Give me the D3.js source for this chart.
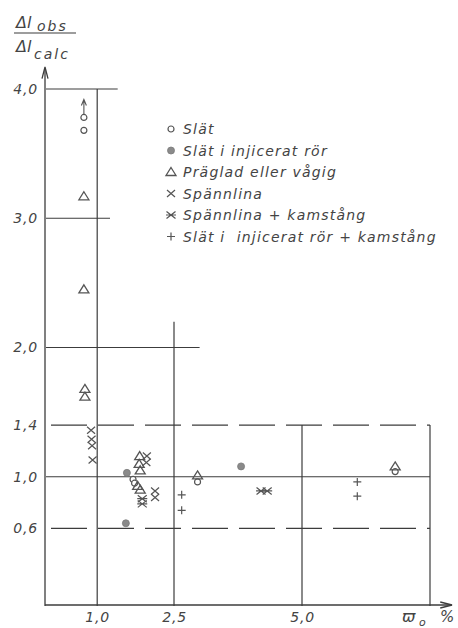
<!DOCTYPE html>
<html>
<head>
<meta charset="utf-8">
<script src="https://cdn.jsdelivr.net/npm/d3@7"></script>
<style>
  html, body { margin: 0; padding: 0; background: #fff; }
  svg text { font-family: "DejaVu Sans", sans-serif; font-style: italic; fill: #444; }
</style>
</head>
<body>
<svg id="chart" width="458" height="628"></svg>
<script>
// Measured elongation ratio Δl_obs / Δl_calc against reinforcement ratio ω0 (%)
const yTicks = [0.6, 1.0, 1.4, 2.0, 3.0, 4.0];
const xTicks = [1.0, 2.5, 5.0];

// Slät (open circles); the first point is off the scale (arrow)
const slat = [[0.74, 3.78], [0.74, 3.68], [1.70, 0.98], [1.73, 0.95], [2.96, 0.96], [6.82, 1.04]];
const slatArrow = [[0.74, 3.78]];
// Slät i injicerat rör (filled circles)
const slatRor = [[1.58, 1.03], [1.56, 0.64], [3.81, 1.08]];
// Präglad eller vågig (triangles)
const praglad = [[0.74, 3.17], [0.74, 2.45], [0.76, 1.68], [0.76, 1.62],
                 [1.83, 1.16], [1.82, 1.10], [1.84, 1.05], [1.79, 0.93], [1.84, 0.90],
                 [2.96, 1.01], [6.82, 1.08]];
// Spännlina (crosses)
const spannlina = [[0.88, 1.36], [0.89, 1.29], [0.90, 1.24], [0.91, 1.13],
                   [1.97, 1.16], [1.96, 1.11], [2.13, 0.89], [2.13, 0.84]];
// Spännlina + kamstång (asterisks)
const spannlinaKam = [[1.88, 0.83], [1.88, 0.79], [4.20, 0.89], [4.32, 0.89]];
// Slät i injicerat rör + kamstång (plus signs)
const slatRorKam = [[2.65, 0.86], [2.65, 0.74], [6.08, 0.96], [6.08, 0.85]];

const legendItems = [
  ["circle", "Slät"],
  ["dot", "Slät i injicerat rör"],
  ["triangle", "Präglad eller vågig"],
  ["cross", "Spännlina"],
  ["star", "Spännlina + kamstång"],
  ["plus", "Slät i  injicerat rör + kamstång"]
];

const svg = d3.select("#chart");
const x = d3.scaleLinear().domain([0, 7.5]).range([46, 430]);
const y = d3.scaleLinear().domain([0, 4]).range([606, 89]);
const ink = "#3c3c3c";

// Frame and guide lines: [x0, x1, y0, y1, dashed]
const lines = [
  [0, 1.4, 4.0, 4.0, false],
  [0, 1.25, 3.0, 3.0, false],
  [0, 3.0, 2.0, 2.0, false],
  [0, 7.5, 1.4, 1.4, true],
  [0, 7.5, 1.0, 1.0, false],
  [0, 7.5, 0.6, 0.6, true],
  [1.0, 1.0, 0, 4.0, false],
  [2.5, 2.5, 0, 2.2, false],
  [5.0, 5.0, 0, 1.4, false],
  [7.5, 7.5, 0, 1.4, false]
];
svg.append("g").selectAll("line").data(lines).join("line")
  .attr("x1", d => x(d[0])).attr("x2", d => x(d[1]))
  .attr("y1", d => y(d[2])).attr("y2", d => y(d[3]))
  .attr("stroke", ink).attr("stroke-width", 1.2)
  .attr("stroke-dasharray", d => d[4] ? "36,11" : null)
  .attr("stroke-dashoffset", d => d[4] ? -5 : null);

// Axes with arrowheads
const axisG = svg.append("g").attr("stroke", ink).attr("stroke-width", 1.3).attr("fill", "none");
axisG.append("line").attr("x1", x(0) - 1).attr("x2", x(0) - 1).attr("y1", y(0)).attr("y2", y(4.16));
axisG.append("path").attr("d", `M${x(0) - 4},${y(4.08)} L${x(0) - 1},${y(4.17)} L${x(0) + 2},${y(4.08)}`);
axisG.append("line").attr("x1", x(0) - 1).attr("x2", x(7.92)).attr("y1", y(0) - 1).attr("y2", y(0) - 1);
axisG.append("path").attr("d", `M${x(7.7)},${y(0) - 4} L${x(7.93)},${y(0) - 1} L${x(7.7)},${y(0) + 2}`);

// Tick labels
const fmt = d => d3.format(".1f")(d).replace(".", ",");
const yAxis = svg.append("g").attr("transform", `translate(${x(0)},0)`)
  .call(d3.axisLeft(y).tickValues(yTicks).tickSize(0).tickPadding(8).tickFormat(fmt));
const xAxis = svg.append("g").attr("transform", `translate(0,${y(0)})`)
  .call(d3.axisBottom(x).tickValues(xTicks).tickSize(0).tickPadding(6).tickFormat(fmt));
[yAxis, xAxis].forEach(g => {
  g.select(".domain").remove();
  g.selectAll("text").style("font-size", "14px").style("font-family", "DejaVu Sans")
    .style("font-style", "italic").style("letter-spacing", "0.8px").attr("fill", "#555");
});

// Axis titles
const t = svg.append("g");
t.append("text").attr("x", 16).attr("y", 28).style("font-size", "16px").text("Δl");
t.append("text").attr("x", 37).attr("y", 31).style("font-size", "14px").style("letter-spacing", "2px").text("obs");
t.append("line").attr("x1", 14).attr("x2", 76).attr("y1", 33).attr("y2", 33).attr("stroke", ink).attr("stroke-width", 1.2);
t.append("text").attr("x", 16).attr("y", 52).style("font-size", "16px").text("Δl");
t.append("text").attr("x", 34).attr("y", 59).style("font-size", "14px").style("letter-spacing", "2px").text("calc");
t.append("text").attr("x", 402).attr("y", 622).style("font-size", "16px").text("ϖ");
t.append("text").attr("x", 419).attr("y", 626).style("font-size", "11px").text("o");
t.append("text").attr("x", 440).attr("y", 622).style("font-size", "15px").text("%");

// Marker drawing
const sym = {
  circle: g => g.append("circle").attr("r", 3).attr("fill", "#fff").attr("stroke", "#555").attr("stroke-width", 1.2),
  dot: g => g.append("circle").attr("r", 3.5).attr("fill", "#8a8a8a").attr("stroke", "#7a7a7a").attr("stroke-width", 0.8),
  triangle: g => g.append("path").attr("d", "M0,-4.5 L5,3.5 L-5,3.5 Z").attr("fill", "none").attr("stroke", "#555").attr("stroke-width", 1.3),
  cross: g => g.append("path").attr("d", "M-4,-3.5 L4,3.5 M-4,3.5 L4,-3.5").attr("stroke", "#555").attr("stroke-width", 1.2),
  star: g => g.append("path").attr("d", "M-4.5,-3.5 L4.5,3.5 M-4.5,3.5 L4.5,-3.5 M-5,0 L5,0").attr("stroke", "#555").attr("stroke-width", 1.2),
  plus: g => g.append("path").attr("d", "M-4,0 L4,0 M0,-4 L0,4").attr("stroke", "#555").attr("stroke-width", 1.2)
};
function plot(data, kind) {
  svg.append("g").selectAll("g").data(data).join("g")
    .attr("transform", d => `translate(${x(d[0])},${y(d[1])})`)
    .each(function () { sym[kind](d3.select(this)); });
}
plot(slat, "circle");
plot(slatRor, "dot");
plot(praglad, "triangle");
plot(spannlina, "cross");
plot(spannlinaKam, "star");
plot(slatRorKam, "plus");

// Arrow marking a value beyond the plotted range
svg.append("g").selectAll("path").data(slatArrow).join("path")
  .attr("d", d => `M${x(d[0])},${y(d[1]) - 3} L${x(d[0])},${y(d[1]) - 17} M${x(d[0]) - 2.5},${y(d[1]) - 12} L${x(d[0])},${y(d[1]) - 18} L${x(d[0]) + 2.5},${y(d[1]) - 12}`)
  .attr("fill", "none").attr("stroke", "#555").attr("stroke-width", 1.1);

// Legend
const leg = svg.append("g").selectAll("g").data(legendItems).join("g")
  .attr("transform", (d, i) => `translate(171,${129 + i * 21.5})`);
leg.each(function (d) { sym[d[0]](d3.select(this)); });
leg.append("text").attr("x", 12).attr("y", 5).style("font-size", "14px")
  .style("letter-spacing", "1.2px").style("white-space", "pre").text(d => d[1]);
</script>
</body>
</html>
